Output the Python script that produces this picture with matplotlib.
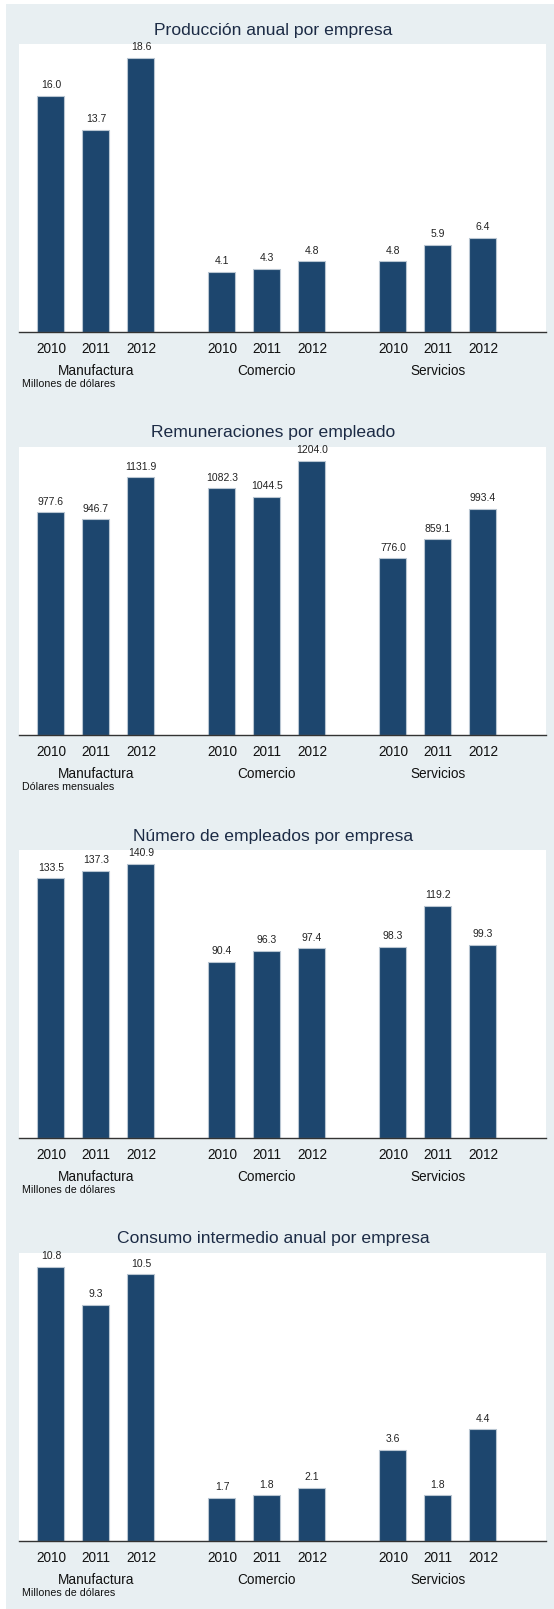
import matplotlib
matplotlib.use('Agg')
import matplotlib.pyplot as plt
from matplotlib.patches import Rectangle

plt.rcParams['font.family'] = ['Liberation Sans', 'DejaVu Sans']

sectors = ['Manufactura', 'Comercio', 'Servicios']
years = ['2010', '2011', '2012']

titles = ['Producción anual por empresa', 'Remuneraciones por empleado',
          'Número de empleados por empresa', 'Consumo intermedio anual por empresa']
notes = ['Millones de dólares', 'Dólares mensuales', 'Millones de dólares', 'Millones de dólares']

produccion = [16.0, 13.7, 18.6, 4.1, 4.3, 4.8, 4.8, 5.9, 6.4]
remuneraciones = [977.6, 946.7, 1131.9, 1082.3, 1044.5, 1204.0, 776.0, 859.1, 993.4]
empleados = [133.5, 137.3, 140.9, 90.4, 96.3, 97.4, 98.3, 119.2, 99.3]
consumo = [10.8, 9.3, 10.5, 1.7, 1.8, 2.1, 3.6, 1.8, 4.4]

series = [produccion, remuneraciones, empleados, consumo]

W, H = 554, 1609
bar_col = '#1d466e'
bg_col = '#e8eff2'

fig = plt.figure(figsize=(W / 100, H / 100), dpi=100, facecolor='white')
fig.patches.append(Rectangle((6 / W, 0), 1 - 6 / W, 1 - 4 / H, transform=fig.transFigure,
                             facecolor=bg_col, edgecolor='none', zorder=-10))

# bar positions: 3 per group, gap between groups
gstep = 3.8
xs = [g * gstep + i for g in range(3) for i in range(3)]

plot_tops = [44, 447, 850, 1253]
plot_h = 288

for k, vals in enumerate(series):
    top = plot_tops[k]
    ax = fig.add_axes([19 / W, 1 - (top + plot_h) / H, 527 / W, plot_h / H])
    ax.set_facecolor('white')
    ax.bar(xs, vals, width=0.6, color=bar_col, edgecolor='#b9c6d2', linewidth=0.8, zorder=2)
    ax.set_xlim(-0.711, 11.0)
    ax.set_ylim(0, max(vals) * 1.05)
    for x, v in zip(xs, vals):
        ax.annotate(f'{v:.1f}', (x, v), xytext=(0, 4), textcoords='offset points',
                    ha='center', va='bottom', fontsize=7.5, color='#222222')
    for s in ['left', 'right', 'top']:
        ax.spines[s].set_visible(False)
    ax.spines['bottom'].set_color('#333333')
    ax.spines['bottom'].set_linewidth(1.0)
    ax.set_yticks([])
    ax.set_xticks(xs)
    ax.set_xticklabels(years * 3, fontsize=9.8, color='#111111')
    ax.tick_params(axis='x', length=0, pad=7)
    for g, name in enumerate(sectors):
        ax.annotate(name, (g * gstep + 1, 0), xycoords=('data', 'axes fraction'),
                    xytext=(0, -28), textcoords='offset points',
                    ha='center', va='center', fontsize=9.8, color='#111111')
    fig.text(273 / W, 1 - (top - 14) / H, titles[k], ha='center', va='center',
             fontsize=12.6, color='#1c2b45')
    fig.text(22 / W, 1 - (top + plot_h + 52) / H, notes[k], ha='left', va='center',
             fontsize=7.7, color='#111111')

fig.savefig('out.png', dpi=100, facecolor=fig.get_facecolor())
